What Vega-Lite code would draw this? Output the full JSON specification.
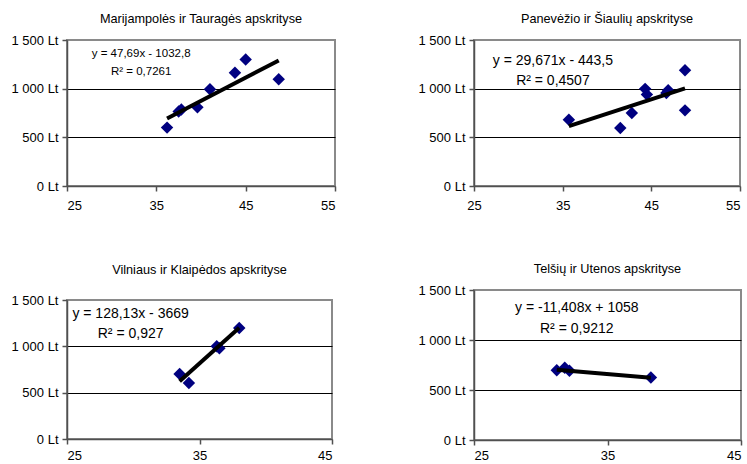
{
  "$schema": "https://vega.github.io/schema/vega-lite/v6.json",
  "padding": {"left": 10, "top": 12, "right": 0, "bottom": 0},
  "background": "white",
  "config": {
    "font": "Liberation Sans",
    "view": {"stroke": "#8a8a8a", "strokeWidth": 2},
    "axis": {
      "domainColor": "#505050", "domainWidth": 1.5, "tickColor": "#505050", "tickWidth": 1.5,
      "gridColor": "black", "gridWidth": 1, "zindex": 1,
      "labelColor": "black", "labelFontSize": 13, "labelFont": "Liberation Sans",
      "tickSize": 5, "labelPadding": 4, "title": null
    },
    "title": {"fontSize": 12.7, "fontWeight": "normal", "font": "Liberation Sans", "color": "black", "anchor": "middle"}
  },
  "datasets": {
    "pts": [
      {"panel": "A", "x": 36.2, "y": 600},
      {"panel": "A", "x": 37.5, "y": 765},
      {"panel": "A", "x": 37.8, "y": 785},
      {"panel": "A", "x": 39.6, "y": 808},
      {"panel": "A", "x": 41.0, "y": 993},
      {"panel": "A", "x": 43.8, "y": 1164},
      {"panel": "A", "x": 45.0, "y": 1300},
      {"panel": "A", "x": 48.7, "y": 1096},
      {"panel": "B", "x": 35.7, "y": 681},
      {"panel": "B", "x": 41.5, "y": 595},
      {"panel": "B", "x": 42.8, "y": 750},
      {"panel": "B", "x": 44.3, "y": 998},
      {"panel": "B", "x": 44.5, "y": 939},
      {"panel": "B", "x": 46.7, "y": 956},
      {"panel": "B", "x": 46.9, "y": 984},
      {"panel": "B", "x": 48.8, "y": 1190},
      {"panel": "B", "x": 48.8, "y": 777},
      {"panel": "C", "x": 33.5, "y": 701},
      {"panel": "C", "x": 34.2, "y": 604},
      {"panel": "C", "x": 36.3, "y": 1000},
      {"panel": "C", "x": 36.5, "y": 980},
      {"panel": "C", "x": 38.0, "y": 1198},
      {"panel": "D", "x": 31.2, "y": 698},
      {"panel": "D", "x": 31.8, "y": 722},
      {"panel": "D", "x": 32.15, "y": 692},
      {"panel": "D", "x": 38.25, "y": 625}
    ],
    "trend": [
      {"panel": "A", "x": 36.2, "y": 694},
      {"panel": "A", "x": 48.7, "y": 1290},
      {"panel": "B", "x": 35.7, "y": 616},
      {"panel": "B", "x": 48.8, "y": 1004},
      {"panel": "C", "x": 33.5, "y": 623},
      {"panel": "C", "x": 38.0, "y": 1200},
      {"panel": "D", "x": 31.2, "y": 702},
      {"panel": "D", "x": 38.25, "y": 622}
    ],
    "labels": [
      {"panel": "A", "x": 33.3, "y": 1356, "text": "y = 47,69x - 1032,8"},
      {"panel": "A", "x": 33.3, "y": 1175, "text": "R² = 0,7261"},
      {"panel": "B", "x": 33.9, "y": 1283, "text": "y = 29,671x - 443,5"},
      {"panel": "B", "x": 33.9, "y": 1077, "text": "R² = 0,4507"},
      {"panel": "C", "x": 29.8, "y": 1349, "text": "y = 128,13x - 3669"},
      {"panel": "C", "x": 29.8, "y": 1133, "text": "R² = 0,927"},
      {"panel": "D", "x": 32.7, "y": 1316, "text": "y = -11,408x + 1058"},
      {"panel": "D", "x": 32.7, "y": 1109, "text": "R² = 0,9212"}
    ]
  },
  "hconcat": [
    {
      "vconcat": [
        {
          "title": {"text": "Marijampolės ir Tauragės apskrityse", "offset": 8},
          "width": 268, "height": 146,
          "layer": [
            {"data": {"name": "pts"}, "transform": [{"filter": "datum.panel == 'A'"}],
             "mark": {"type": "point", "shape": "diamond", "filled": true, "color": "#000080", "size": 155, "opacity": 1},
             "encoding": {
               "x": {"field": "x", "type": "quantitative", "scale": {"domain": [25, 55], "nice": false, "zero": false}, "axis": {"values": [25, 35, 45, 55], "grid": false, "labelPadding": 8}},
               "y": {"field": "y", "type": "quantitative", "scale": {"domain": [0, 1500], "nice": false}, "axis": {"values": [0, 500, 1000, 1500], "gridColor": {"condition": {"test": "datum.value == 1500 || datum.value == 0", "value": "transparent"}, "value": "black"}, "labelExpr": "replace(format(datum.value, ','), ',', ' ') + ' Lt'"}}
             }},
            {"data": {"name": "trend"}, "transform": [{"filter": "datum.panel == 'A'"}],
             "mark": {"type": "line", "color": "black", "strokeWidth": 4},
             "encoding": {"x": {"field": "x", "type": "quantitative"}, "y": {"field": "y", "type": "quantitative"}}},
            {"data": {"name": "labels"}, "transform": [{"filter": "datum.panel == 'A'"}],
             "mark": {"type": "text", "color": "black", "font": "Liberation Sans", "fontSize": 11.5},
             "encoding": {"x": {"field": "x", "type": "quantitative"}, "y": {"field": "y", "type": "quantitative"}, "text": {"field": "text"}}}
          ]
        },
        {
          "title": {"text": "Vilniaus ir Klaipėdos apskrityse", "offset": 17.5},
          "width": 265, "height": 139,
          "layer": [
            {"data": {"name": "pts"}, "transform": [{"filter": "datum.panel == 'C'"}],
             "mark": {"type": "point", "shape": "diamond", "filled": true, "color": "#000080", "size": 155, "opacity": 1},
             "encoding": {
               "x": {"field": "x", "type": "quantitative", "scale": {"domain": [25, 45], "nice": false, "zero": false}, "axis": {"values": [25, 35, 45], "grid": false, "labelPadding": 5}},
               "y": {"field": "y", "type": "quantitative", "scale": {"domain": [0, 1500], "nice": false}, "axis": {"values": [0, 500, 1000, 1500], "gridColor": {"condition": {"test": "datum.value == 1500 || datum.value == 0", "value": "transparent"}, "value": "black"}, "labelExpr": "replace(format(datum.value, ','), ',', ' ') + ' Lt'"}}
             }},
            {"data": {"name": "trend"}, "transform": [{"filter": "datum.panel == 'C'"}],
             "mark": {"type": "line", "color": "black", "strokeWidth": 4},
             "encoding": {"x": {"field": "x", "type": "quantitative"}, "y": {"field": "y", "type": "quantitative"}}},
            {"data": {"name": "labels"}, "transform": [{"filter": "datum.panel == 'C'"}],
             "mark": {"type": "text", "color": "black", "font": "Liberation Sans", "fontSize": 14},
             "encoding": {"x": {"field": "x", "type": "quantitative"}, "y": {"field": "y", "type": "quantitative"}, "text": {"field": "text"}}}
          ]
        }
      ],
      "spacing": 49
    },
    {
      "vconcat": [
        {
          "title": {"text": "Panevėžio ir Šiaulių apskrityse", "offset": 8},
          "width": 266, "height": 146,
          "layer": [
            {"data": {"name": "pts"}, "transform": [{"filter": "datum.panel == 'B'"}],
             "mark": {"type": "point", "shape": "diamond", "filled": true, "color": "#000080", "size": 155, "opacity": 1},
             "encoding": {
               "x": {"field": "x", "type": "quantitative", "scale": {"domain": [25, 55], "nice": false, "zero": false}, "axis": {"values": [25, 35, 45, 55], "grid": false, "labelPadding": 8, "labelAlign": {"condition": {"test": "datum.value == 55", "value": "right"}, "value": "center"}}},
               "y": {"field": "y", "type": "quantitative", "scale": {"domain": [0, 1500], "nice": false}, "axis": {"values": [0, 500, 1000, 1500], "gridColor": {"condition": {"test": "datum.value == 1500 || datum.value == 0", "value": "transparent"}, "value": "black"}, "labelExpr": "replace(format(datum.value, ','), ',', ' ') + ' Lt'"}}
             }},
            {"data": {"name": "trend"}, "transform": [{"filter": "datum.panel == 'B'"}],
             "mark": {"type": "line", "color": "black", "strokeWidth": 4},
             "encoding": {"x": {"field": "x", "type": "quantitative"}, "y": {"field": "y", "type": "quantitative"}}},
            {"data": {"name": "labels"}, "transform": [{"filter": "datum.panel == 'B'"}],
             "mark": {"type": "text", "color": "black", "font": "Liberation Sans", "fontSize": 14},
             "encoding": {"x": {"field": "x", "type": "quantitative"}, "y": {"field": "y", "type": "quantitative"}, "text": {"field": "text"}}}
          ]
        },
        {
          "title": {"text": "Telšių ir Utenos apskrityse", "offset": 8.5},
          "width": 267, "height": 150,
          "layer": [
            {"data": {"name": "pts"}, "transform": [{"filter": "datum.panel == 'D'"}],
             "mark": {"type": "point", "shape": "diamond", "filled": true, "color": "#000080", "size": 155, "opacity": 1},
             "encoding": {
               "x": {"field": "x", "type": "quantitative", "scale": {"domain": [25, 45], "nice": false, "zero": false}, "axis": {"values": [25, 35, 45], "grid": false, "labelPadding": 4}},
               "y": {"field": "y", "type": "quantitative", "scale": {"domain": [0, 1500], "nice": false}, "axis": {"values": [0, 500, 1000, 1500], "gridColor": {"condition": {"test": "datum.value == 1500 || datum.value == 0", "value": "transparent"}, "value": "black"}, "labelExpr": "replace(format(datum.value, ','), ',', ' ') + ' Lt'"}}
             }},
            {"data": {"name": "trend"}, "transform": [{"filter": "datum.panel == 'D'"}],
             "mark": {"type": "line", "color": "black", "strokeWidth": 4},
             "encoding": {"x": {"field": "x", "type": "quantitative"}, "y": {"field": "y", "type": "quantitative"}}},
            {"data": {"name": "labels"}, "transform": [{"filter": "datum.panel == 'D'"}],
             "mark": {"type": "text", "color": "black", "font": "Liberation Sans", "fontSize": 14},
             "encoding": {"x": {"field": "x", "type": "quantitative"}, "y": {"field": "y", "type": "quantitative"}, "text": {"field": "text"}}}
          ]
        }
      ],
      "spacing": 48
    }
  ],
  "spacing": 80
}
